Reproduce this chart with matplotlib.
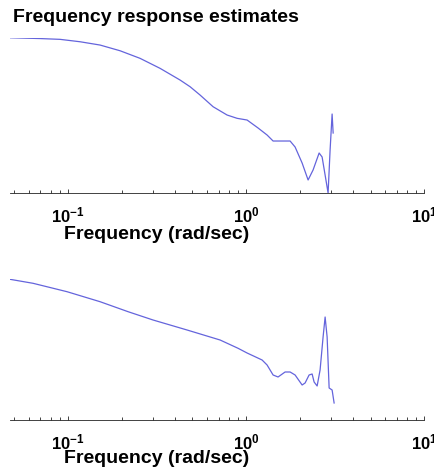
import matplotlib
matplotlib.use("Agg")
import matplotlib.pyplot as plt
from matplotlib.ticker import FixedLocator, LogLocator, NullFormatter

plt.rcParams['font.family'] = ['Liberation Sans', 'DejaVu Sans']
plt.rcParams['mathtext.fontset'] = 'custom'
plt.rcParams['mathtext.rm'] = 'Liberation Sans'
plt.rcParams['mathtext.bf'] = 'Liberation Sans:bold'

# Top panel (response estimate, arbitrary units)
freq_top = [0.0472, 0.0696, 0.0902, 0.1168, 0.1513, 0.1959, 0.2538, 0.3287, 0.4258, 0.4847,
            0.5514, 0.6526, 0.7822, 0.8902, 1.013, 1.168, 1.312, 1.418, 1.767, 1.885,
            2.064, 2.230, 2.378, 2.572, 2.673, 2.888, 2.964, 3.042, 3.083]
resp_top = [155.3, 154.5, 153.7, 151.3, 148, 142.3, 134.7, 124.7, 113, 106.3,
            98, 86.3, 78, 74.7, 73, 65, 58, 52, 52, 46,
            30, 13, 23, 40, 36, 0, 43, 79, 60]

# Bottom panel
freq_bot = [0.0472, 0.0636, 0.0987, 0.1513, 0.2174, 0.3002, 0.4662, 0.7144, 0.9017, 1.013,
            1.230, 1.312, 1.418, 1.512, 1.656, 1.767, 1.885, 2.064, 2.145, 2.259,
            2.349, 2.410, 2.506, 2.604, 2.707, 2.779, 2.852, 2.927, 3.042, 3.122]
resp_bot = [140.7, 136.7, 128.3, 118.3, 108.3, 100, 90, 80, 71.7, 67,
            60, 55, 45, 43, 48, 48, 45, 35, 37, 45,
            46, 38, 34, 50, 83, 103, 83, 32, 30, 17]

title_text = "Frequency response estimates"
xlabel_text = "Frequency (rad/sec)"
major_ticks = [0.1, 1, 10]
tick_labels = [r'$\mathbf{10^{-1}}$', r'$\mathbf{10^{0}}$', r'$\mathbf{10^{1}}$']
xlim = (0.0472, 10)

fig = plt.figure(figsize=(4.35, 4.69), dpi=100)
line_color = '#6464dc'

ax1 = fig.add_axes([0.023, 0.5885, 0.952, 0.331])
ax2 = fig.add_axes([0.023, 0.1045, 0.952, 0.3006])

for ax, f, r, ylim, label_y in [(ax1, freq_top, resp_top, (0, 155.3), -0.265),
                                (ax2, freq_bot, resp_bot, (0, 141), -0.27)]:
    ax.plot(f, r, color=line_color, lw=0.9)
    ax.set_xscale('log')
    ax.set_xlim(*xlim)
    ax.set_ylim(*ylim)
    for s in ['top', 'left', 'right']:
        ax.spines[s].set_visible(False)
    ax.spines['bottom'].set_linewidth(0.6)
    ax.spines['bottom'].set_color('#222222')
    ax.set_yticks([])
    ax.xaxis.set_major_locator(FixedLocator(major_ticks))
    ax.set_xticklabels(tick_labels)
    ax.xaxis.set_minor_locator(LogLocator(base=10, subs=range(2, 10), numticks=20))
    ax.xaxis.set_minor_formatter(NullFormatter())
    ax.tick_params(axis='x', which='major', direction='in', length=3, width=0.6,
                   labelsize=12, pad=9, color='#222222')
    ax.tick_params(axis='x', which='minor', direction='in', length=2, width=0.6,
                   color='#222222')
    ax.set_xlabel(xlabel_text, fontsize=14, fontweight='bold', va='center')
    ax.xaxis.set_label_coords(0.353, label_y)
    ax.patch.set_alpha(0)

fig.text(0.03, 0.962, title_text, fontsize=14, fontweight='bold', ha='left', va='center')

fig.savefig('out.png', dpi=100)
